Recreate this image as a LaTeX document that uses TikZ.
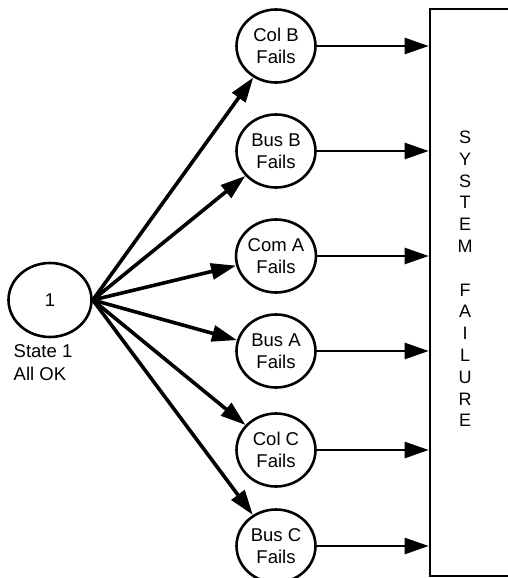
\documentclass[tikz,border=0pt]{standalone}
\usepackage{fontspec}
\setmainfont{Liberation Sans}
\usetikzlibrary{shapes.geometric,arrows.meta}

\begin{document}
\begin{tikzpicture}[x=1pt,y=1pt,yscale=-1,xscale=1,
	state/.style={draw, ellipse, line width=2.6pt, minimum width=79pt, minimum height=73pt, inner sep=0pt, align=center, font=\fontsize{18.5}{22.5}\selectfont},
	fanline/.style={line width=3.6pt, -{Triangle[length=25pt,width=16pt]}},
	outline/.style={line width=2.6pt, -{Triangle[length=24pt,width=16pt]}}]
		\useasboundingbox (0,0) rectangle (507,578); % picture is 507 wide and 578 high

		% Starting state on the left
		\node[state, minimum width=83pt, minimum height=74pt] (hub) at (50,300) {1};
		\node[anchor=north, inner sep=0pt, align=left, font=\fontsize{18.5}{23}\selectfont] (hublabel) at (43,344) {State 1\\All OK};

		% The six failure states
		\node[state] (colb) at (276,46) {Col B\\Fails};
		\node[state] (busb) at (276,151) {Bus B\\Fails};
		\node[state] (coma) at (276,256) {Com A\\Fails};
		\node[state] (busa) at (276,351) {Bus A\\Fails};
		\node[state] (colc) at (276,450) {Col C\\Fails};
		\node[state] (busc) at (276,546) {Bus C\\Fails};

		% The tall box on the right (its right side runs off the picture)
		\node[draw, line width=2.6pt, minimum width=90pt, minimum height=567pt, inner sep=0pt] (sysfail) at (475,292.5) {};
		\node[align=center, inner sep=0pt, font=\fontsize{18}{21.8}\selectfont] (sysfailtext) at (465,279) {S\\Y\\S\\T\\E\\M\\ \\F\\A\\I\\L\\U\\R\\E};

		% Arrows out of state 1 and into the box
		\foreach \s in {colb,busb,coma,busa,colc,busc} {
			\draw[fanline] (hub.east) -- (\s);
			\draw[outline] (\s.east) -- (\s.east -| sysfail.west);
		}
	\end{tikzpicture}
\end{document}
